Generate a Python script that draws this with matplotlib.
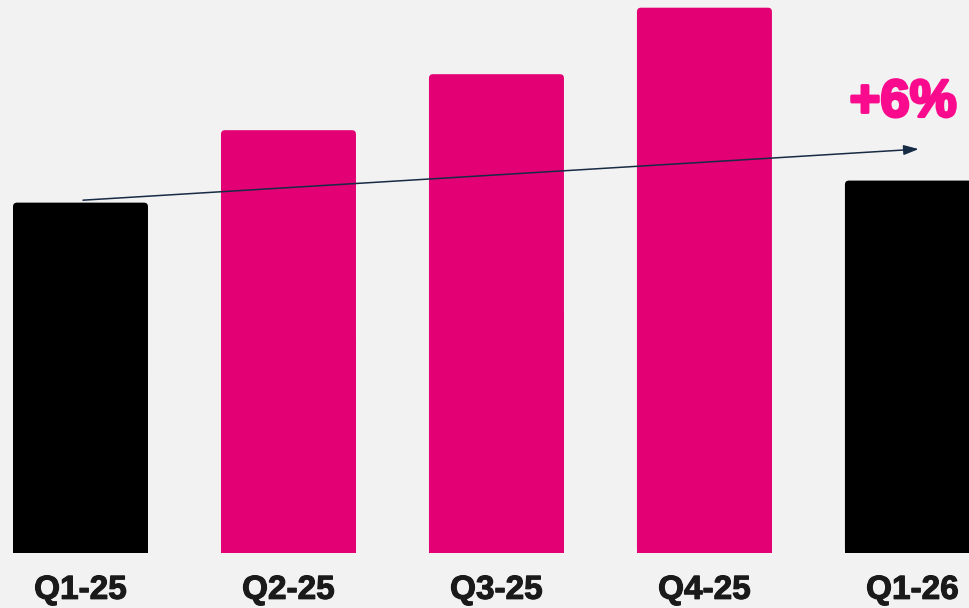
import matplotlib

matplotlib.use("Agg")
import matplotlib.patheffects as pe
import matplotlib.pyplot as plt
from matplotlib.patches import FancyBboxPatch, Rectangle

# values indexed to Q1-25 = 100
categories = ["Q1-25", "Q2-25", "Q3-25", "Q4-25", "Q1-26"]
values = [100.0, 120.7, 136.7, 155.7, 106.3]
is_current = [True, False, False, False, True]

# trend arrow drawn from the Q1-25 bar top towards the Q1-26 bar
arrow_end = (4.03, 115.3)

BG = "#f2f2f2"
MAGENTA = "#e20074"
TEXT_PINK = "#fa0a8c"
NAVY = "#172b45"
LABEL = "#1a1a1a"

plt.rcParams["font.family"] = ["Liberation Sans", "DejaVu Sans"]

fig = plt.figure(figsize=(9.69, 6.08), dpi=100, facecolor=BG)
ax = fig.add_axes([0, 55.4 / 608, 1, 552.6 / 608], facecolor=BG)

x = list(range(len(categories)))
colors = ["black" if c else MAGENTA for c in is_current]
width = 0.649
bars = ax.bar(x, values, width=width, color=colors)

# swap plain bars for ones with slightly rounded top corners
ax.set_xlim(-0.387, 4.272)
ax.set_ylim(0, 157.9)
px_x = 208.0  # pixels per x unit
px_y = 3.5  # pixels per y unit
for rect, col in zip(bars, colors):
    rect.set_visible(False)
    x0, w, h = rect.get_x(), rect.get_width(), rect.get_height()
    r = 4.0 / px_x
    ax.add_patch(FancyBboxPatch((x0, 0), w, h,
                                boxstyle=f"round,pad=0,rounding_size={r}",
                                mutation_aspect=px_x / px_y,
                                facecolor=col, edgecolor="none"))
    ax.add_patch(Rectangle((x0, 0), w, h / 2, facecolor=col, edgecolor="none"))

ax.annotate("", xy=arrow_end, xytext=(0.012, values[0] + 0.7),
            arrowprops=dict(arrowstyle="-|>,head_length=0.6,head_width=0.2",
                            mutation_scale=15, color=NAVY, lw=1.1,
                            shrinkA=0, shrinkB=0))

growth = (values[-1] / values[0] - 1) * 100
ax.text(3.955, 124.6, f"+{growth:.0f}%", color=TEXT_PINK, fontsize=38,
        fontweight="bold", ha="center", va="baseline",
        path_effects=[pe.withStroke(linewidth=2.2, foreground=TEXT_PINK)])

ax.set_xticks(x, categories)
ax.tick_params(axis="x", length=0, pad=16, labelsize=24, labelcolor=LABEL)
for lab in ax.get_xticklabels():
    lab.set_fontweight("bold")
    lab.set_path_effects([pe.withStroke(linewidth=0.8, foreground=LABEL)])
ax.set_yticks([])
for s in ax.spines.values():
    s.set_visible(False)

fig.savefig("out.png", dpi=100, facecolor=BG)
